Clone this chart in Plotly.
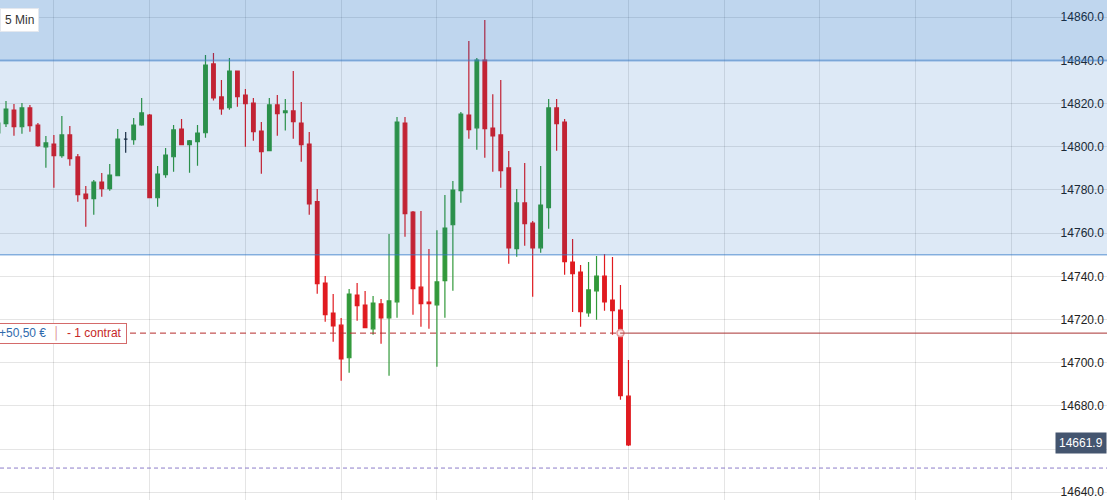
import plotly.graph_objects as go
import pandas as pd

# 5 minute candles, first one partly hidden at the left edge
times = pd.date_range("2021-02-26 09:25", periods=80, freq="5min")

opens = [14806.4, 14810.7, 14817.0, 14809.3, 14818.0, 14810.1, 14800.0, 14801.3, 14795.9, 14805.5,
         14795.3, 14778.1, 14776.0, 14783.7, 14780.6, 14786.6, 14803.6, 14803.3, 14810.1, 14814.7,
         14776.4, 14787.1, 14795.4, 14808.2, 14801.0, 14802.4, 14806.5, 14838.4, 14823.1, 14818.1,
         14835.1, 14824.0, 14820.3, 14807.3, 14798.2, 14819.4, 14815.8, 14816.6, 14811.0, 14801.3,
         14774.6, 14736.9, 14723.0, 14717.4, 14702.3, 14731.3, 14726.7, 14715.7, 14727.2, 14720.8,
         14728.2, 14811.0, 14769.8, 14735.0, 14728.1, 14726.8, 14738.0, 14763.9, 14779.7, 14814.7,
         14808.8, 14840.2, 14808.7, 14805.5, 14790.2, 14752.8, 14774.0, 14764.7, 14753.2, 14771.8,
         14818.0, 14811.5, 14746.6, 14742.0, 14723.1, 14733.3, 14740.1, 14729.0, 14724.4, 14684.5]
highs = [14812.4, 14821.2, 14819.8, 14820.3, 14819.4, 14811.0, 14805.0, 14805.5, 14814.3, 14809.6,
         14796.7, 14781.8, 14784.6, 14787.9, 14792.0, 14808.2, 14806.8, 14813.3, 14822.6, 14815.2,
         14791.1, 14799.4, 14810.1, 14812.9, 14803.1, 14810.1, 14842.5, 14843.5, 14830.9, 14841.1,
         14835.1, 14826.8, 14822.6, 14811.5, 14822.6, 14824.0, 14822.1, 14835.1, 14820.7, 14806.8,
         14780.4, 14740.1, 14731.8, 14720.7, 14734.1, 14736.9, 14733.2, 14730.9, 14729.5, 14759.6,
         14813.8, 14813.8, 14770.3, 14770.3, 14752.7, 14761.4, 14777.7, 14784.2, 14816.1, 14849.0,
         14841.1, 14858.7, 14824.4, 14830.9, 14798.0, 14780.4, 14792.5, 14765.6, 14791.1, 14822.1,
         14822.1, 14812.9, 14757.3, 14745.2, 14746.6, 14749.4, 14750.3, 14748.9, 14736.0, 14701.2]
lows = [14805.0, 14809.2, 14805.1, 14806.1, 14807.0, 14800.0, 14790.3, 14781.0, 14794.9, 14791.2,
        14774.6, 14763.0, 14768.5, 14776.9, 14779.7, 14786.6, 14797.3, 14801.0, 14809.8, 14776.4,
        14772.2, 14785.7, 14788.5, 14801.0, 14788.0, 14791.2, 14804.2, 14821.4, 14814.9, 14817.2,
        14818.6, 14800.0, 14802.8, 14787.5, 14798.2, 14805.1, 14807.5, 14803.7, 14793.1, 14768.5,
        14731.9, 14719.0, 14709.7, 14691.6, 14695.3, 14719.4, 14716.2, 14712.9, 14708.8, 14693.9,
        14720.8, 14758.3, 14722.2, 14716.7, 14715.7, 14698.1, 14720.8, 14733.3, 14774.1, 14803.7,
        14798.6, 14794.9, 14788.5, 14781.0, 14745.8, 14749.1, 14754.2, 14730.5, 14750.9, 14762.0,
        14798.2, 14740.7, 14723.5, 14716.7, 14721.3, 14719.9, 14724.1, 14712.9, 14682.8, 14661.4]
closes = [14811.0, 14817.5, 14809.3, 14818.0, 14809.8, 14800.5, 14801.8, 14795.9, 14805.5, 14794.5,
          14777.8, 14776.0, 14783.7, 14780.6, 14786.9, 14803.6, 14803.6, 14810.1, 14815.7, 14776.4,
          14787.4, 14796.2, 14807.8, 14801.0, 14802.8, 14806.4, 14837.9, 14822.7, 14817.6, 14835.1,
          14823.2, 14820.0, 14807.0, 14797.7, 14819.4, 14815.3, 14816.6, 14811.6, 14801.0, 14773.6,
          14736.6, 14722.2, 14717.1, 14701.8, 14731.8, 14726.4, 14716.2, 14727.6, 14720.8, 14728.6,
          14811.5, 14769.0, 14734.3, 14727.3, 14727.3, 14737.4, 14762.4, 14780.0, 14815.2, 14807.9,
          14840.2, 14808.4, 14805.1, 14788.9, 14753.2, 14774.0, 14764.4, 14753.2, 14773.0, 14818.0,
          14810.7, 14746.8, 14741.2, 14723.6, 14733.7, 14740.1, 14728.2, 14724.1, 14684.7, 14661.9]

doji_idx = [16]          # drawn in black
entry_idx = 78           # candle where the position marker sits

zone_top = 14840
zone_bottom = 14750
position_price = 14713.7
alert_price = 14651.2
last_price = 14661.9

y_ticks = [14640, 14660, 14680, 14700, 14720, 14740, 14760, 14780, 14800, 14820, 14840, 14860]
# 14660 label sits under the last-price box
y_ticktext = ["" if v == 14660 else f"{v:.1f}" for v in y_ticks]

x_start = "2021-02-26 09:26:15"
x_end = "2021-02-26 20:59:50"

df = pd.DataFrame({"t": times, "o": opens, "h": highs, "l": lows, "c": closes})
main = df.copy()
main.loc[doji_idx, ["o", "h", "l", "c"]] = None
dj = df.copy()
dj.loc[~dj.index.isin(doji_idx), ["o", "h", "l", "c"]] = None

green = "#32993a"
red = "#e01b20"
grid = "rgba(0,0,0,0.1)"
band = "rgba(0,88,185,0.135)"

fig = go.Figure()
fig.add_trace(go.Candlestick(
    x=main["t"], open=main["o"], high=main["h"], low=main["l"], close=main["c"],
    increasing=dict(line=dict(color=green, width=1.2), fillcolor=green),
    decreasing=dict(line=dict(color=red, width=1.2), fillcolor=red),
    hoverinfo="skip"))
fig.add_trace(go.Candlestick(
    x=dj["t"], open=dj["o"], high=dj["h"], low=dj["l"], close=dj["c"],
    increasing=dict(line=dict(color="#1d2733", width=1.2), fillcolor="#1d2733"),
    decreasing=dict(line=dict(color="#1d2733", width=1.2), fillcolor="#1d2733"),
    hoverinfo="skip"))
fig.add_trace(go.Scatter(
    x=[times[entry_idx]], y=[position_price], mode="markers",
    marker=dict(size=7, color="#fbe9e9", line=dict(color="#e79a9a", width=1.5)),
    hoverinfo="skip"))

# blue zones drawn over the candles (they tint them)
fig.add_shape(type="rect", xref="paper", x0=0, x1=1, yref="y", y0=zone_bottom, y1=14900,
              fillcolor=band, line_width=0, layer="above")
fig.add_shape(type="rect", xref="paper", x0=0, x1=1, yref="y", y0=zone_top, y1=14900,
              fillcolor=band, line_width=0, layer="above")
fig.add_shape(type="line", xref="paper", x0=0, x1=1, y0=zone_top, y1=zone_top,
              line=dict(color="rgba(60,130,210,0.5)", width=2), layer="above")
fig.add_shape(type="line", xref="paper", x0=0, x1=1, y0=zone_bottom, y1=zone_bottom,
              line=dict(color="rgba(50,120,200,0.55)", width=1.5), layer="above")

# position line: dashed up to the marker, solid after
fig.add_shape(type="line", x0=x_start, x1=times[entry_idx], y0=position_price, y1=position_price,
              line=dict(color="#b52b2b", width=1, dash="6px,4px"), layer="above")
fig.add_shape(type="line", x0=times[entry_idx], x1=x_end, y0=position_price, y1=position_price,
              line=dict(color="#a83232", width=1), layer="above")
fig.add_shape(type="line", xref="paper", x0=0, x1=1, y0=alert_price, y1=alert_price,
              line=dict(color="#8c7cc9", width=1, dash="4px,3px"), layer="above")

fig.add_annotation(text="5 Min", xref="paper", x=0, xanchor="left", yref="paper", y=0.96,
                   yanchor="middle", showarrow=False, bgcolor="white", bordercolor="#e4e8ee",
                   borderwidth=1, borderpad=4, font=dict(size=12, color="#333"))
fig.add_annotation(
    text="+50,50 €&nbsp;&nbsp;<span style='color:#d98a8a'>│</span>&nbsp;&nbsp;"
         "<span style='color:#c62828'>- 1 contrat</span>&nbsp;",
    xref="paper", x=127 / 1107, xanchor="right", y=position_price, yanchor="middle",
    showarrow=False, bgcolor="white", bordercolor="#d46a6a", borderwidth=1, borderpad=2,
    font=dict(size=12, color="#2f6aad"))
fig.add_annotation(text=f"{last_price:.1f}", xref="paper", x=1, xanchor="right", y=last_price,
                   yanchor="middle", yshift=2, showarrow=False, bgcolor="#44556f", borderpad=3,
                   font=dict(size=12, color="white"))

fig.update_layout(
    width=1107, height=500, margin=dict(l=0, r=0, t=0, b=0),
    plot_bgcolor="white", paper_bgcolor="white", showlegend=False, boxgap=0.35,
    font=dict(family="Liberation Sans, Arial, sans-serif", size=12, color="#222"),
    xaxis=dict(type="date", range=[x_start, x_end], showticklabels=False, gridcolor=grid,
               dtick=3600000, tick0="2021-02-26 10:00", rangeslider=dict(visible=False),
               zeroline=False, showline=False, ticks=""),
    yaxis=dict(side="right", ticklabelposition="inside", range=[14636.4, 14868.0],
               tickvals=y_ticks, ticktext=y_ticktext, gridcolor=grid, zeroline=False,
               showline=False, ticks="", tickfont=dict(size=12, color="#222")),
)

fig.write_html("out.html", config={"displayModeBar": False},
               post_script="document.body.style.margin='0';document.body.style.overflow='hidden';")
